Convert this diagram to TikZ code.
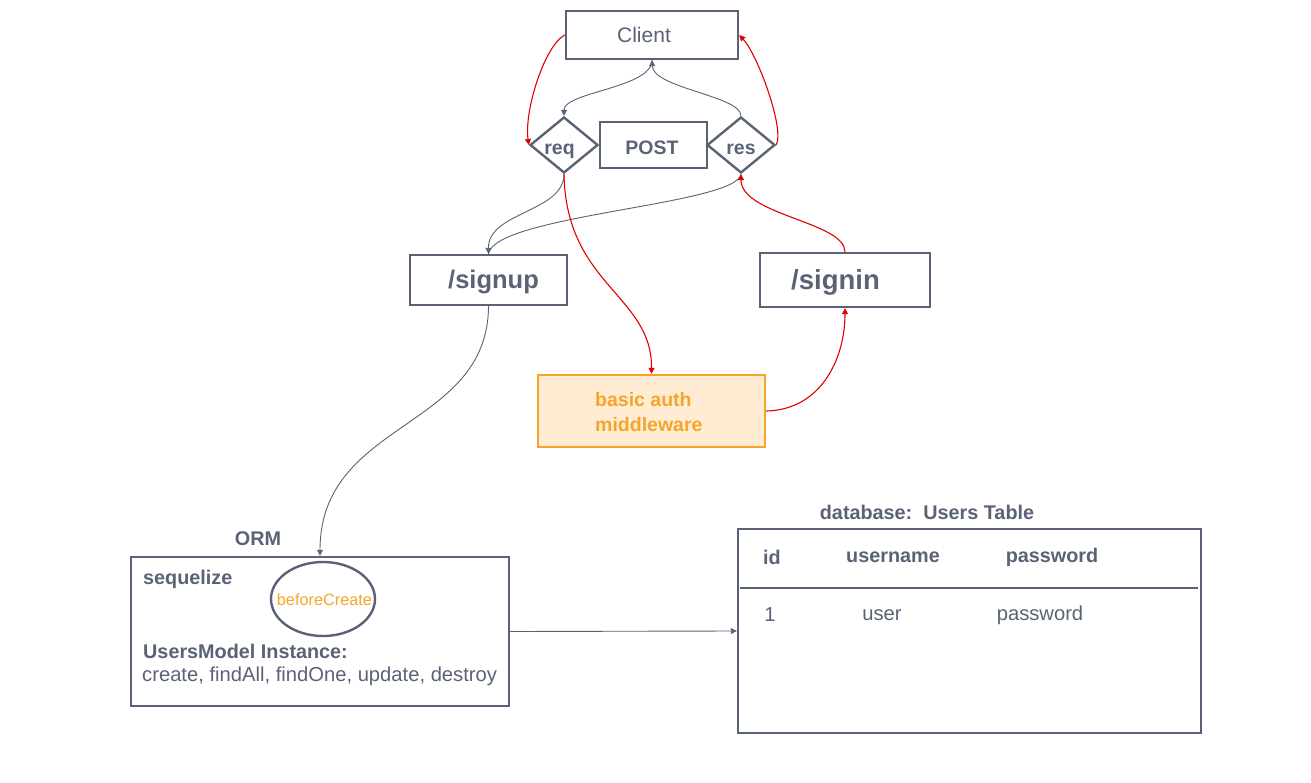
\documentclass[tikz,border=0pt]{standalone}
\usepackage{fontspec}
\setmainfont{Liberation Sans}
\usetikzlibrary{shapes.geometric,arrows.meta}
\definecolor{ink}{HTML}{5A6276}
\definecolor{redline}{HTML}{E00000}
\definecolor{orangetxt}{HTML}{F5A52A}
\definecolor{orangefill}{HTML}{FFECD3}
\tikzset{
  box/.style={draw=ink, line width=2.4pt, rectangle, inner sep=0pt, text=ink},
  dia/.style={draw=ink, line width=2.4pt, diamond, inner sep=0pt, minimum width=68pt, minimum height=56pt},
  dtxt/.style={text=ink, inner sep=0pt, font=\fontsize{19.5}{22}\selectfont\bfseries},
  lbl/.style={text=ink, inner sep=0pt},
  bold19/.style={text=ink, inner sep=0pt, font=\fontsize{19.8}{22}\selectfont\bfseries},
  reg19/.style={text=ink, inner sep=0pt, font=\fontsize{20.2}{22}\selectfont},
  gline/.style={draw=ink, line width=0.9pt, -{Triangle[length=6pt,width=6pt]}},
  gplain/.style={draw=ink, line width=0.9pt},
  rline/.style={draw=redline, line width=1.1pt, -{Triangle[length=6pt,width=6pt]}},
}
\begin{document}
\begin{tikzpicture}[x=1pt,y=-1pt]
\useasboundingbox (0,0) rectangle (1311,783);
% nodes
\node[box, minimum width=172pt, minimum height=48pt] (client) at (652,35) {};
\node[lbl, font=\fontsize{21}{24}\selectfont] (clienttxt) at (644,35) {Client};
\node[dia] (req) at (564,145) {};
\node[dtxt, anchor=base] (reqtxt) at (559.5,154.5) {req};
\node[dia] (res) at (741,145) {};
\node[dtxt, anchor=base] (restxt) at (741,154.5) {res};
\node[box, minimum width=107pt, minimum height=46pt] (post) at (653.5,145) {};
\node[dtxt, anchor=base] (posttxt) at (652,154.5) {POST};
\node[box, minimum width=157pt, minimum height=50pt] (signup) at (488.5,280) {};
\node[lbl, font=\fontsize{25.5}{28}\selectfont\bfseries, anchor=west] (signuptxt) at (448,282) {/signup};
\node[box, minimum width=170pt, minimum height=54pt] (signin) at (845,280) {};
\node[lbl, font=\fontsize{27.5}{30}\selectfont\bfseries, anchor=west] (signintxt) at (791,282) {/signin};
\node[draw=orangetxt, fill=orangefill, line width=2.4pt, minimum width=227pt, minimum height=72pt, inner sep=0pt] (auth) at (651.5,411) {};
\node[text=orangetxt, font=\fontsize{19.5}{25}\selectfont\bfseries, align=left, anchor=west, inner sep=0pt] (authtxt) at (595,412) {basic auth\\middleware};
% ORM
\node[bold19] (orm) at (258,539) {ORM};
\node[box, minimum width=378pt, minimum height=149pt] (seq) at (320,631.5) {};
\node[bold19, anchor=west] (seqname) at (143,579) {sequelize};
\node[draw=ink, line width=2.4pt, ellipse, minimum width=104pt, minimum height=74pt, inner sep=0pt] (hook) at (323,599) {};
\node[text=orangetxt, font=\fontsize{16.3}{19}\selectfont, inner sep=0pt] (hooktxt) at (324.5,599.5) {beforeCreate};
\node[bold19, anchor=west] (umi) at (143,651) {UsersModel Instance:};
\node[reg19, anchor=west] (methods) at (142,676) {create, findAll, findOne, update, destroy};
% table
\node[bold19] (dbtitle) at (927,512) {database:\ \ Users Table};
\node[box, minimum width=463pt, minimum height=204pt] (table) at (969.5,631) {};
\coordinate (hl) at (740,588);
\coordinate (hr) at (1198,588);
\draw[ink, line width=2.4pt] (hl) -- (hr);
\node[bold19] (hid) at (772,557) {id};
\node[bold19] (huser) at (893,557) {username};
\node[bold19] (hpass) at (1052,557) {password};
\node[reg19] (rid) at (770,615) {1};
\node[reg19] (ruser) at (882,615) {user};
\node[reg19] (rpass) at (1040,615) {password};
% gray connectors
\draw[gline] (client.south) .. controls (652,88) and (564,92) .. (req.north);
\draw[gline] (res.north) .. controls (741,96) and (653,88) .. (client.south);
\draw[gline] (req.south) .. controls (564,212) and (488,212) .. (signup.north);
\draw[gplain] (res.south) .. controls (736,205) and (495,215) .. (signup.north);
\draw[gline] (signup.south) .. controls (488,430) and (320,420) .. (seq.north);
\draw[gline] (seq.east) -- (table.west);
% red connectors
\draw[rline] (client.west) .. controls (545,45) and (524,110) .. (req.west);
\draw[rline] (res.east) .. controls (785,130) and (758,55) .. (client.east);
\draw[rline] (req.south) .. controls (566,285) and (652,295) .. (auth.north);
\draw[rline] (auth.east) .. controls (820,410) and (845,360) .. (signin.south);
\draw[rline] (signin.north) .. controls (845,222) and (741,215) .. (res.south);
\end{tikzpicture}
\end{document}
